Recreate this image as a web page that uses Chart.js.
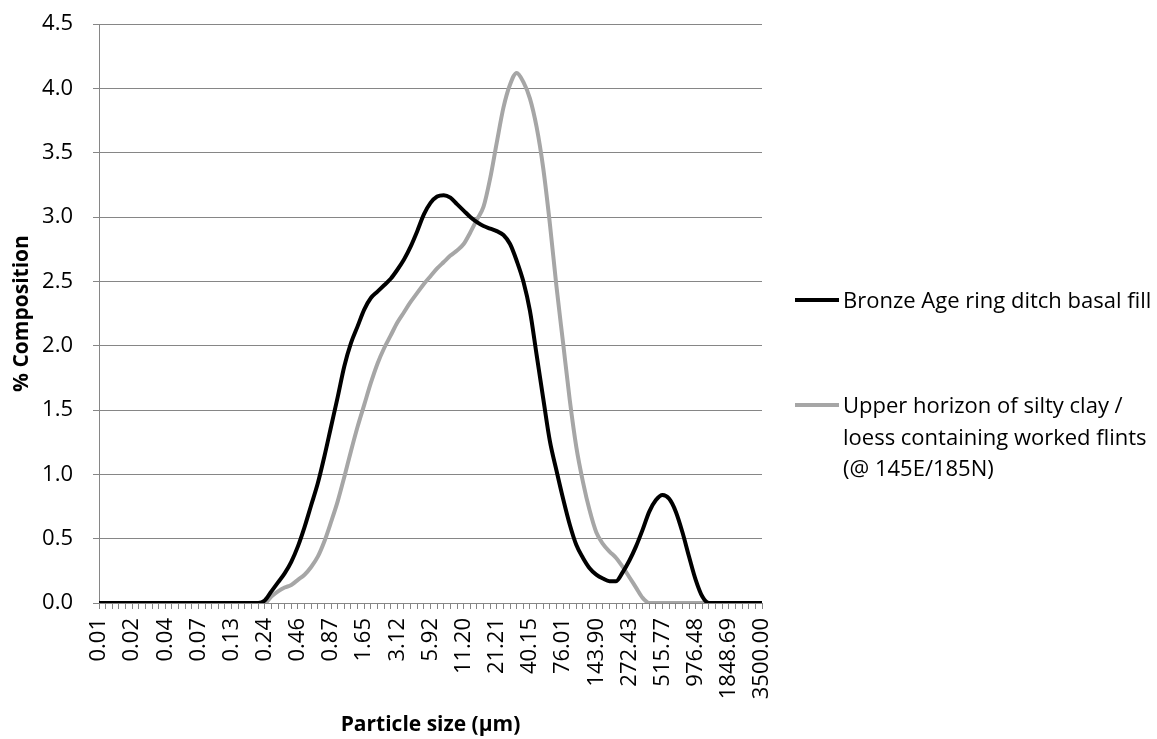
<!DOCTYPE html>
<html>
<head>
<meta charset="utf-8">
<script src="https://cdn.jsdelivr.net/npm/chart.js@4"></script>
<style>
    body { margin: 0; background: #fff; }
    #wrap { position: relative; width: 1157px; height: 739px; }
    #legend { position: absolute; left: 795px; top: 0; font-family: 'Open Sans', sans-serif; font-size: 22px; color: #000; }
    .item { position: absolute; left: 0; white-space: nowrap; }
    .swatch { position: absolute; left: 0; width: 44px; height: 4px; }
    .txt { position: absolute; left: 48px; line-height: 31.5px; }
</style>
</head>
<body>
<div id="wrap">
    <canvas id="psdChart" width="1157" height="739"></canvas>
    <div id="legend"></div>
</div>
<script>
// particle size classes (µm), every 5th one is labelled on the axis
const sizeClasses = ['0.01', '0.01', '0.01', '0.01', '0.02', '0.02', '0.02', '0.02', '0.03', '0.03',
    '0.04', '0.04', '0.05', '0.05', '0.06', '0.07', '0.08', '0.09', '0.10', '0.11',
    '0.13', '0.15', '0.17', '0.19', '0.21', '0.24', '0.28', '0.31', '0.36', '0.41',
    '0.46', '0.52', '0.59', '0.68', '0.77', '0.87', '0.99', '1.13', '1.28', '1.45',
    '1.65', '1.88', '2.13', '2.42', '2.75', '3.12', '3.55', '4.03', '4.58', '5.21',
    '5.92', '6.72', '7.64', '8.68', '9.86', '11.20', '12.73', '14.46', '16.43', '18.67',
    '21.21', '24.10', '27.38', '31.11', '35.34', '40.15', '45.62', '51.83', '58.89', '66.91',
    '76.01', '86.36', '98.12', '111.48', '126.66', '143.90', '163.50', '185.76', '211.05', '239.79',
    '272.43', '309.53', '351.68', '399.56', '453.96', '515.77', '586.00', '665.79', '756.44', '859.44',
    '976.48', '1109.43', '1260.50', '1432.13', '1627.14', '1848.69', '2100.42', '2386.42', '2711.36', '3080.55',
    '3500.00'];

const basalFill = [0, 0, 0, 0, 0, 0, 0, 0, 0, 0,
    0, 0, 0, 0, 0, 0, 0, 0, 0, 0,
    0, 0, 0, 0, 0, 0.02, 0.09, 0.16, 0.23, 0.32,
    0.44, 0.59, 0.76, 0.93, 1.14, 1.37, 1.60, 1.84, 2.02, 2.15,
    2.28, 2.37, 2.42, 2.47, 2.52, 2.59, 2.67, 2.77, 2.89, 3.02,
    3.11, 3.16, 3.17, 3.15, 3.10, 3.05, 3.00, 2.96, 2.93, 2.91,
    2.89, 2.86, 2.79, 2.66, 2.50, 2.27, 1.93, 1.59, 1.26, 1.03,
    0.81, 0.61, 0.45, 0.35, 0.27, 0.22, 0.19, 0.17, 0.17, 0.24,
    0.33, 0.44, 0.57, 0.71, 0.80, 0.84, 0.81, 0.71, 0.55, 0.36,
    0.18, 0.05, 0, 0, 0, 0, 0, 0, 0, 0,
    0];

const upperHorizon = [0, 0, 0, 0, 0, 0, 0, 0, 0, 0,
    0, 0, 0, 0, 0, 0, 0, 0, 0, 0,
    0, 0, 0, 0, 0, 0, 0.05, 0.09, 0.12, 0.14,
    0.18, 0.22, 0.28, 0.36, 0.48, 0.63, 0.79, 0.98, 1.18, 1.37,
    1.54, 1.71, 1.86, 1.98, 2.08, 2.18, 2.26, 2.34, 2.41, 2.48,
    2.54, 2.60, 2.65, 2.70, 2.74, 2.79, 2.88, 2.98, 3.08, 3.30,
    3.58, 3.85, 4.03, 4.12, 4.05, 3.92, 3.70, 3.38, 2.95, 2.46,
    2.02, 1.58, 1.21, 0.94, 0.72, 0.55, 0.46, 0.40, 0.35, 0.28,
    0.20, 0.12, 0.04, 0, 0, 0, 0, 0, 0, 0,
    0, 0, 0, 0, 0, 0, 0, 0, 0, 0,
    0];

const seriesNames = ['Bronze Age ring ditch basal fill',
    ['Upper horizon of silty clay /', 'loess containing worked flints', '(@ 145E/185N)']];
const seriesColours = ['#000000', '#a6a6a6'];

const gridGrey = '#868686';

document.addEventListener('DOMContentLoaded', function() {
    const ctx = document.getElementById('psdChart');

    new Chart(ctx, {
        type: 'line',
        data: {
            labels: sizeClasses,
            datasets: [{
                label: seriesNames[0],
                data: basalFill,
                borderColor: seriesColours[0],
                borderWidth: 4,
                pointRadius: 0,
                cubicInterpolationMode: 'monotone',
                fill: false
            }, {
                label: seriesNames[1].join(' '),
                data: upperHorizon,
                borderColor: seriesColours[1],
                borderWidth: 4,
                pointRadius: 0,
                cubicInterpolationMode: 'monotone',
                fill: false
            }]
        },
        options: {
            responsive: false,
            animation: false,
            layout: {
                padding: { top: 24, right: 395, bottom: 0, left: 0 }
            },
            plugins: {
                legend: { display: false },
                tooltip: { enabled: false }
            },
            scales: {
                x: {
                    offset: false,
                    afterFit: function(scale) { scale.height = 136; },
                    grid: {
                        display: true,
                        drawOnChartArea: false,
                        drawTicks: true,
                        tickLength: 6,
                        color: gridGrey
                    },
                    border: { color: gridGrey, width: 1 },
                    ticks: {
                        autoSkip: false,
                        minRotation: 90,
                        maxRotation: 90,
                        padding: 9,
                        color: '#000',
                        font: { family: 'Open Sans', size: 22 },
                        callback: function(value, index) {
                            return index % 5 === 0 ? sizeClasses[index] : '';
                        }
                    },
                    title: {
                        display: true,
                        text: 'Particle size (µm)',
                        color: '#000',
                        font: { family: 'Open Sans', size: 21, weight: 'bold' },
                        padding: { top: 4, bottom: 1 }
                    }
                },
                y: {
                    min: 0,
                    max: 4.5,
                    afterFit: function(scale) {
                        scale.width = 99;
                        // tick padding would otherwise push the plot top down
                        scale.paddingTop = 0;
                        scale.paddingBottom = 0;
                    },
                    grid: {
                        color: gridGrey,
                        tickLength: 6
                    },
                    border: { color: gridGrey, width: 1 },
                    ticks: {
                        stepSize: 0.5,
                        padding: 20,
                        color: '#000',
                        font: { family: 'Open Sans', size: 22 },
                        callback: function(value) {
                            return value.toFixed(1);
                        }
                    },
                    title: {
                        display: true,
                        text: '% Composition',
                        color: '#000',
                        font: { family: 'Open Sans', size: 21, weight: 'bold' },
                        padding: { top: 9, bottom: 4 }
                    }
                }
            }
        }
    });

    // legend on the right, built by hand so the long name can wrap
    const legend = document.getElementById('legend');
    const rowsY = [300, 405];
    seriesNames.forEach(function(name, i) {
        const lines = Array.isArray(name) ? name : [name];
        const item = document.createElement('div');
        item.className = 'item';
        item.style.top = rowsY[i] + 'px';

        const swatch = document.createElement('div');
        swatch.className = 'swatch';
        swatch.style.background = seriesColours[i];
        swatch.style.top = '-2px';

        const txt = document.createElement('div');
        txt.className = 'txt';
        txt.style.top = '-15.75px';
        txt.innerHTML = lines.join('<br>');

        item.appendChild(swatch);
        item.appendChild(txt);
        legend.appendChild(item);
    });
});
</script>
</body>
</html>
